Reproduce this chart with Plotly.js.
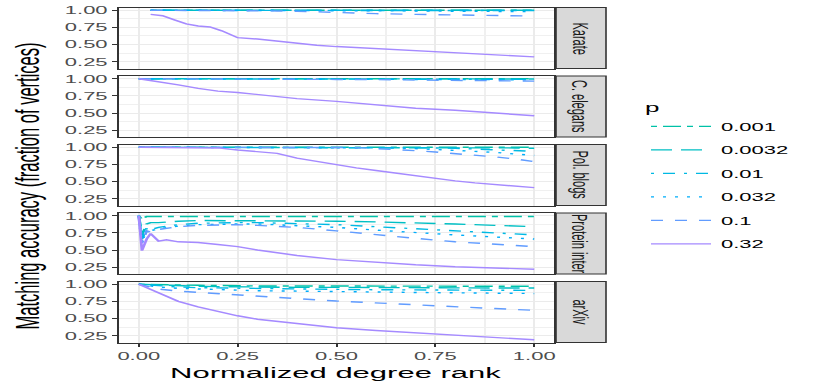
<!DOCTYPE html>
<html>
<head>
<meta charset="utf-8">
<script src="https://cdn.plot.ly/plotly-3.0.1.min.js"></script>
<style>
	html, body { margin: 0; padding: 0; background: #fff; overflow: hidden; }
	/* the reference is a horizontally stretched ggplot, so draw at half width and stretch */
	#matching-plot { width: 415px; height: 388px; transform: scaleX(2); transform-origin: 0 0; }
</style>
</head>
<body>
<div id="matching-plot"></div>
<script>
(function () {

	'use strict';

	// legend levels (p) and facet names
	const pValues = ['0.001', '0.0032', '0.01', '0.032', '0.1', '0.32'];
	const networks = ['Karate', 'C. elegans', 'Pol. blogs', 'Protein inter', 'arXiv'];

	// x ticks / y ticks
	const xTicks = [0, 0.25, 0.5, 0.75, 1];
	const yTicks = [0.25, 0.5, 0.75, 1];

	// Karate - one array per p (same order as pValues)
	const karateRank = [0.03, 0.06, 0.09, 0.12, 0.15, 0.18, 0.21, 0.25, 0.3, 0.35, 0.4, 0.45, 0.5, 0.6, 0.7, 0.8, 0.9, 1.0];
	const karateAcc = [
		[1, 1, 1, 1, 1, 1, 1, 1, 1, 1, 1, 1, 1, 1, 1, 1, 1, 1],
		[1, 1, 1, 1, 1, 1, 1, 1, 1, 1, 1, 1, 1, 1, 1, 1, 1, 1],
		[1, 1, 1, 1, 1, 1, 1, 1, 1, 1, 1, 1, 1, 1, 1, 0.998, 0.996, 0.995],
		[1, 1, 1, 1, 1, 1, 1, 1, 1, 1, 1, 1, 0.995, 0.99, 0.99, 0.985, 0.98, 0.98],
		[1, 1, 1, 1, 1, 1, 1, 1, 1, 0.99, 0.985, 0.975, 0.965, 0.95, 0.94, 0.93, 0.925, 0.915],
		[0.94, 0.92, 0.86, 0.80, 0.77, 0.755, 0.70, 0.60, 0.58, 0.55, 0.515, 0.49, 0.47, 0.44, 0.41, 0.375, 0.345, 0.32],
	];

	// C. elegans
	const elegansRank = [0, 0.05, 0.1, 0.15, 0.2, 0.25, 0.3, 0.35, 0.4, 0.5, 0.6, 0.7, 0.8, 0.9, 1.0];
	const elegansAcc = [
		[1, 1, 1, 1, 1, 1, 1, 1, 1, 1, 1, 1, 1, 1, 1],
		[1, 1, 1, 1, 1, 1, 1, 1, 1, 1, 1, 1, 1, 0.998, 0.997],
		[1, 1, 1, 1, 1, 1, 1, 1, 1, 1, 1, 1, 0.995, 0.993, 0.99],
		[1, 1, 1, 1, 0.998, 0.997, 0.996, 0.995, 0.994, 0.992, 0.99, 0.99, 0.988, 0.986, 0.985],
		[1, 1, 0.998, 0.996, 0.995, 0.994, 0.993, 0.992, 0.991, 0.99, 0.988, 0.985, 0.98, 0.975, 0.965],
		[1.0, 0.96, 0.91, 0.86, 0.82, 0.80, 0.77, 0.745, 0.71, 0.67, 0.615, 0.57, 0.54, 0.505, 0.46],
	];

	// Pol. blogs
	const blogsRank = [0, 0.05, 0.1, 0.15, 0.2, 0.25, 0.3, 0.35, 0.4, 0.45, 0.5, 0.55, 0.6, 0.65, 0.7, 0.75, 0.8, 0.85, 0.9, 0.95, 1.0];
	const blogsAcc = [
		[1, 1, 1, 1, 1, 1, 1, 1, 1, 1, 1, 1, 1, 1, 1, 1, 1, 1, 1, 1, 1],
		[1, 1, 1, 1, 1, 1, 1, 1, 1, 1, 1, 1, 1, 1, 1, 1, 1, 0.997, 0.994, 0.99, 0.985],
		[1, 1, 1, 1, 1, 1, 1, 1, 1, 1, 1, 1, 1, 1, 0.995, 0.99, 0.985, 0.975, 0.965, 0.955, 0.94],
		[1, 1, 1, 1, 1, 1, 1, 1, 1, 1, 1, 1, 0.995, 0.99, 0.98, 0.97, 0.955, 0.94, 0.925, 0.905, 0.88],
		[1, 1, 1, 1, 1, 1, 1, 1, 1, 1, 1, 0.995, 0.98, 0.97, 0.95, 0.93, 0.91, 0.89, 0.86, 0.83, 0.79],
		[1, 1, 1, 1, 0.99, 0.96, 0.935, 0.91, 0.84, 0.79, 0.745, 0.70, 0.66, 0.62, 0.58, 0.545, 0.51, 0.48, 0.455, 0.43, 0.41],
	];

	// Protein interactions
	const proteinRank = [0, 0.008, 0.02, 0.03, 0.05, 0.07, 0.1, 0.15, 0.2, 0.25, 0.3, 0.4, 0.5, 0.6, 0.7, 0.8, 0.9, 1.0];
	const proteinAcc = [
		[1, 0.95, 0.99, 0.99, 0.99, 0.99, 0.99, 0.99, 0.99, 0.99, 0.99, 0.99, 0.99, 0.99, 0.99, 0.99, 0.99, 0.99],
		[1, 0.72, 0.88, 0.9, 0.9, 0.91, 0.92, 0.93, 0.93, 0.93, 0.93, 0.93, 0.92, 0.91, 0.9, 0.88, 0.86, 0.84],
		[1, 0.66, 0.82, 0.8, 0.83, 0.85, 0.87, 0.89, 0.9, 0.9, 0.9, 0.89, 0.87, 0.84, 0.81, 0.78, 0.75, 0.72],
		[1, 0.62, 0.8, 0.78, 0.81, 0.83, 0.85, 0.87, 0.88, 0.88, 0.88, 0.86, 0.83, 0.79, 0.75, 0.72, 0.69, 0.66],
		[1, 0.6, 0.78, 0.76, 0.8, 0.82, 0.84, 0.86, 0.87, 0.87, 0.86, 0.83, 0.78, 0.72, 0.67, 0.62, 0.58, 0.55],
		[1, 0.49, 0.66, 0.74, 0.63, 0.65, 0.62, 0.61, 0.58, 0.55, 0.5, 0.42, 0.36, 0.32, 0.285, 0.255, 0.235, 0.22],
	];

	// arXiv
	const arxivRank = [0, 0.02, 0.05, 0.1, 0.15, 0.2, 0.25, 0.3, 0.4, 0.5, 0.6, 0.7, 0.8, 0.9, 1.0];
	const arxivAcc = [
		[1, 1, 0.995, 0.99, 0.985, 0.98, 0.98, 0.975, 0.975, 0.975, 0.97, 0.97, 0.97, 0.97, 0.97],
		[1, 0.995, 0.985, 0.975, 0.97, 0.965, 0.96, 0.96, 0.955, 0.955, 0.95, 0.95, 0.95, 0.945, 0.945],
		[1, 0.99, 0.975, 0.96, 0.95, 0.945, 0.94, 0.935, 0.93, 0.925, 0.92, 0.92, 0.915, 0.915, 0.91],
		[1, 0.98, 0.96, 0.94, 0.93, 0.92, 0.91, 0.905, 0.9, 0.89, 0.885, 0.88, 0.875, 0.87, 0.865],
		[1, 0.97, 0.93, 0.9, 0.88, 0.86, 0.84, 0.82, 0.79, 0.755, 0.725, 0.695, 0.67, 0.645, 0.62],
		[1, 0.95, 0.87, 0.75, 0.67, 0.6, 0.54, 0.49, 0.43, 0.365, 0.325, 0.29, 0.26, 0.225, 0.19],
	];

	const panelData = [
		[karateRank, karateAcc],
		[elegansRank, elegansAcc],
		[blogsRank, blogsAcc],
		[proteinRank, proteinAcc],
		[arxivRank, arxivAcc],
	];

	/**
	* Styles (ggplot hue colours + linetypes twodash ... solid)
	* dash lengths are in pre-stretch px
	*/
	const colours = ['#00C1A7', '#00BFC4', '#00B9E3', '#00ADFA', '#619CFF', '#A58AFF'];
	const dashes = ['3px,3px,9px,3px', '10.5px,4.5px', '1.5px,4.5px,6px,4.5px', '1.5px,4.5px', '6px,6px', 'solid'];

	const font = 'Liberation Sans, Arial, Helvetica, sans-serif';
	const W = 415, H = 388; // pre-stretch size
	const SX = 2; // horizontal stretch

	// panel geometry (final px)
	const plotLeft = 119, plotRight = 554;
	const panelTop0 = 7.5, panelStep = 68.5, panelH = 61;
	const stripLeft = 556, stripRight = 606;

	const px2x = ( px ) => px / ( W * SX );
	const px2y = ( py ) => 1 - py / H;

	const data = [];
	const layout = {
		width: W,
		height: H,
		margin: { l: 0, r: 0, t: 0, b: 0 },
		paper_bgcolor: '#fff',
		plot_bgcolor: '#fff',
		font: { family: font, color: '#000' },
		showlegend: true,
		legend: {
			x: 320.5 / W,
			y: px2y( 95 ),
			xanchor: 'left',
			yanchor: 'top',
			title: { text: 'p', font: { size: 13, color: '#000' } },
			font: { size: 11, color: '#000' },
			tracegroupgap: 4.5,
			bgcolor: 'rgba(0,0,0,0)',
		},
		shapes: [],
		annotations: [],
	};

	panelData.forEach(( [rank, acc], i ) => {
		const n = i === 0 ? '' : String( i + 1 );
		const isLast = i === panelData.length - 1;
		const top = panelTop0 + i * panelStep;
		const bottom = top + panelH;

		acc.forEach(( yVals, k ) => {
			data.push({
				x: rank,
				y: yVals,
				xaxis: 'x' + n,
				yaxis: 'y' + n,
				name: pValues[k],
				legendgroup: pValues[k],
				showlegend: i === 0,
				type: 'scatter',
				mode: 'lines',
				line: { color: colours[k], width: 1.4, dash: dashes[k] },
				hovertemplate: networks[i] + '<br>p=' + pValues[k] + '<br>%{x:.2f}, %{y:.2f}<extra></extra>',
			});
		});

		layout['xaxis' + n] = {
			domain: [px2x( plotLeft ), px2x( plotRight )],
			anchor: 'y' + n,
			range: [-0.05, 1.05],
			tickvals: xTicks,
			tickformat: '.2f',
			showticklabels: isLast,
			ticks: isLast ? 'outside' : '',
			ticklen: 3,
			tickwidth: 1,
			tickcolor: '#333',
			tickfont: { size: 11, color: '#4D4D4D', family: font },
			showline: true,
			mirror: true,
			linecolor: '#333',
			linewidth: 1,
			showgrid: true,
			gridcolor: '#EBEBEB',
			gridwidth: 1,
			minor: { tickvals: [0.125, 0.375, 0.625, 0.875], showgrid: true, gridcolor: '#F0F0F0', gridwidth: 0.5, ticks: '' },
			zeroline: false,
			fixedrange: true,
		};

		layout['yaxis' + n] = {
			domain: [px2y( bottom ), px2y( top )],
			anchor: 'x' + n,
			range: [0.15, 1.04],
			tickvals: yTicks,
			tickformat: '.2f',
			ticks: 'outside',
			ticklen: 2.5,
			tickwidth: 1,
			tickcolor: '#333',
			tickfont: { size: 11, color: '#4D4D4D', family: font },
			showline: true,
			mirror: true,
			linecolor: '#333',
			linewidth: 1,
			showgrid: true,
			gridcolor: '#EBEBEB',
			gridwidth: 1.2,
			minor: { tickvals: [0.375, 0.625, 0.875], showgrid: true, gridcolor: '#F0F0F0', gridwidth: 0.6, ticks: '' },
			zeroline: false,
			fixedrange: true,
		};

		// facet strip
		layout.shapes.push({
			type: 'rect',
			xref: 'paper',
			yref: 'paper',
			x0: px2x( stripLeft ),
			x1: px2x( stripRight ),
			y0: px2y( bottom ),
			y1: px2y( top ),
			fillcolor: '#D9D9D9',
			line: { color: '#333', width: 0.8 },
			layer: 'below',
		});

		layout.annotations.push({
			text: networks[i],
			xref: 'paper',
			yref: 'paper',
			x: px2x(( stripLeft + stripRight ) / 2 ),
			y: px2y(( top + bottom ) / 2 ),
			xanchor: 'center',
			yanchor: 'middle',
			textangle: 90,
			showarrow: false,
			font: { size: 11, color: '#1A1A1A', family: font },
		});
	});

	// axis titles
	layout.annotations.push({
		text: 'Matching accuracy (fraction of vertices)',
		xref: 'paper',
		yref: 'paper',
		x: px2x( 27 ),
		y: px2y( 186 ),
		xanchor: 'center',
		yanchor: 'middle',
		textangle: -90,
		showarrow: false,
		font: { size: 16.5, color: '#000', family: font },
	});

	layout.annotations.push({
		text: 'Normalized degree rank',
		xref: 'paper',
		yref: 'paper',
		x: px2x( 335 ),
		y: px2y( 372 ),
		xanchor: 'center',
		yanchor: 'middle',
		showarrow: false,
		font: { size: 15.5, color: '#000', family: font },
	});

	Plotly.newPlot( 'matching-plot', data, layout, { displayModeBar: false, responsive: false } );

})();
</script>
</body>
</html>
